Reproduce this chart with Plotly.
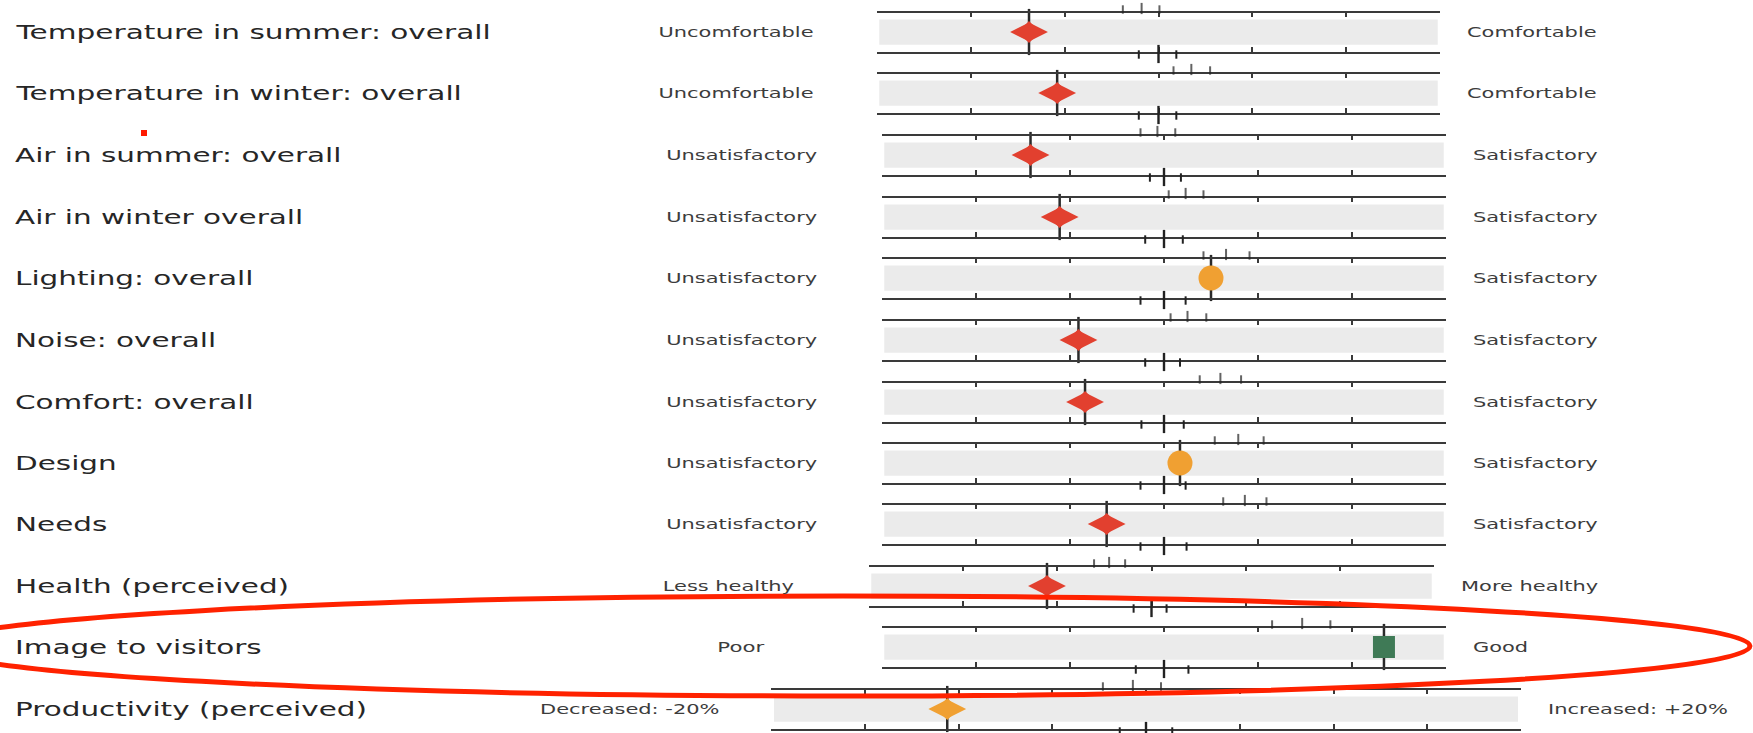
import plotly.graph_objects as go

# ---------------- data ----------------
categories = [
    "Temperature in summer: overall", "Temperature in winter: overall",
    "Air in summer: overall", "Air in winter overall", "Lighting: overall",
    "Noise: overall", "Comfort: overall", "Design", "Needs",
    "Health (perceived)", "Image to visitors", "Productivity (perceived)",
]
low_labels = [
    "Uncomfortable", "Uncomfortable", "Unsatisfactory", "Unsatisfactory",
    "Unsatisfactory", "Unsatisfactory", "Unsatisfactory", "Unsatisfactory",
    "Unsatisfactory", "Less healthy", "Poor", "Decreased: -20%",
]
high_labels = [
    "Comfortable", "Comfortable", "Satisfactory", "Satisfactory",
    "Satisfactory", "Satisfactory", "Satisfactory", "Satisfactory",
    "Satisfactory", "More healthy", "Good", "Increased: +20%",
]
scale_min = [1, 1, 1, 1, 1, 1, 1, 1, 1, 1, 1, -20]
scale_max = [7, 7, 7, 7, 7, 7, 7, 7, 7, 7, 7, 20]
scale_step = [1, 1, 1, 1, 1, 1, 1, 1, 1, 1, 1, 5]

scores = [2.62, 2.92, 2.58, 2.89, 4.50, 3.09, 3.16, 4.17, 3.39, 2.89, 6.34, -10.6]

# benchmark marks (above the band)
bench_low = [3.62, 4.16, 3.75, 4.05, 4.42, 4.07, 4.38, 4.54, 4.63, 3.39, 5.15, -2.3]
bench_mid = [3.82, 4.35, 3.93, 4.23, 4.66, 4.25, 4.60, 4.79, 4.86, 3.55, 5.47, -0.7]
bench_high = [4.01, 4.55, 4.12, 4.42, 4.91, 4.45, 4.82, 5.06, 5.09, 3.72, 5.77, 0.8]

# scale mid-point marks (below the band)
mid_low = [3.79, 3.79, 3.85, 3.80, 3.75, 3.80, 3.76, 3.75, 3.75, 3.81, 3.70, -1.4]
mid_centre = [4.0, 4.0, 4.0, 4.0, 4.0, 4.0, 4.0, 4.0, 4.0, 4.0, 4.0, 0.0]
mid_high = [4.19, 4.19, 4.18, 4.20, 4.23, 4.17, 4.21, 4.23, 4.24, 4.16, 4.26, 1.4]

vs_benchmark = ["worse", "worse", "worse", "worse", "similar", "worse",
                "worse", "similar", "worse", "worse", "better", "similar"]
vs_midpoint = ["below", "below", "below", "below", "near", "below",
               "below", "near", "below", "below", "above", "below"]

# ---------------- styles / layout geometry ----------------
W, H = 1753, 733
colour_map = {"worse": "#e2402f", "similar": "#f0a032", "better": "#3f7a56"}
symbol_map = {"below": "diamond-wide", "near": "circle", "above": "square"}
size_map = {"below": 27, "near": 25, "above": 22}

row_centre_px = [32, 93, 155, 217, 278, 340, 402, 463, 524, 586, 647, 709]
axis_left_px = [877, 877, 882, 882, 882, 882, 882, 882, 882, 869, 882, 771]
axis_right_px = [1440, 1440, 1446, 1446, 1446, 1446, 1446, 1446, 1446, 1434, 1446, 1521]
half_h = 19.5
band_px = 2 * half_h
pad_px = 14
LINE = "#3a3a3a"
MARK = "#222222"


def px(v):
    """pixel offset -> y units of a row axis"""
    return v / band_px


fig = go.Figure()
layout = dict(
    width=W, height=H, margin=dict(l=0, r=0, t=0, b=0),
    paper_bgcolor="white", plot_bgcolor="rgba(0,0,0,0)", showlegend=False,
    font=dict(family="DejaVu Sans", color="#2b2b2b"),
)
shapes = []
annotations = []
N = len(categories)

for i, cat in enumerate(categories):
    n = "" if i == 0 else str(i + 1)
    xa, ya = "x" + n, "y" + n
    nb = str(i + 1 + N)
    yb = "y" + nb
    c = row_centre_px[i]
    top = c - half_h
    bot = c + half_h
    layout["xaxis" + n] = dict(
        domain=[axis_left_px[i] / W, axis_right_px[i] / W],
        range=[scale_min[i], scale_max[i]], tick0=scale_min[i], dtick=scale_step[i],
        showline=True, linecolor=LINE, linewidth=1.5, mirror="ticks",
        ticks="inside", ticklen=5, tickwidth=1.5, tickcolor=LINE,
        showticklabels=False, showgrid=False, zeroline=False, anchor=ya,
        fixedrange=True,
    )
    layout["yaxis" + n] = dict(
        domain=[(H - bot) / H, (H - top) / H], range=[0, 1], visible=False,
        anchor=xa, fixedrange=True,
    )
    # taller companion axis (same scale) so that marks outside the lines are drawn
    top_b = max(0.0, top - pad_px)
    bot_b = min(float(H), bot + pad_px)
    layout["yaxis" + nb] = dict(
        domain=[(H - bot_b) / H, (H - top_b) / H],
        range=[-px(bot_b - bot), 1 + px(top - top_b)], visible=False,
        anchor=xa, fixedrange=True,
    )
    # grey band
    shapes.append(dict(type="rect", xref=xa + " domain", yref=ya,
                       x0=0.004, x1=0.996, y0=0.17, y1=0.82,
                       fillcolor="#ebebeb", line=dict(width=0), layer="below"))
    # benchmark marks above top line
    fig.add_trace(go.Scatter(
        x=[bench_low[i], bench_mid[i], bench_high[i]],
        y=[1 + px(3.0), 1 + px(4.0), 1 + px(3.0)],
        xaxis=xa, yaxis=yb, mode="markers", cliponaxis=False, hoverinfo="skip",
        marker=dict(symbol="line-ns", size=[6, 8, 6],
                    line=dict(color=MARK, width=2)),
    ))
    # scale mid-point marks below bottom line
    fig.add_trace(go.Scatter(
        x=[mid_low[i], mid_high[i]], y=[-px(3.0), -px(3.0)],
        xaxis=xa, yaxis=yb, mode="markers", cliponaxis=False, hoverinfo="skip",
        marker=dict(symbol="line-ns", size=6, line=dict(color=MARK, width=2)),
    ))
    fig.add_trace(go.Scatter(
        x=[mid_centre[i]], y=[-px(2.5)],
        xaxis=xa, yaxis=yb, mode="markers", cliponaxis=False, hoverinfo="skip",
        marker=dict(symbol="line-ns", size=13, line=dict(color=MARK, width=2.4)),
    ))
    # stem through the score
    fig.add_trace(go.Scatter(
        x=[scores[i]], y=[0.5], xaxis=xa, yaxis=ya, mode="markers",
        cliponaxis=False, hoverinfo="skip",
        marker=dict(symbol="line-ns", size=33, line=dict(color="#2a2a2a", width=2.5)),
    ))
    # score marker (diamonds get a taller core to give the 4-point star look)
    if vs_midpoint[i] == "below":
        fig.add_trace(go.Scatter(
            x=[scores[i]], y=[0.5], xaxis=xa, yaxis=ya, mode="markers",
            cliponaxis=False, hoverinfo="skip",
            marker=dict(symbol="diamond", size=17,
                        color=colour_map[vs_benchmark[i]], line=dict(width=0)),
        ))
    fig.add_trace(go.Scatter(
        x=[scores[i]], y=[0.5], xaxis=xa, yaxis=ya, mode="markers",
        cliponaxis=False, name=cat,
        marker=dict(symbol=symbol_map[vs_midpoint[i]], size=size_map[vs_midpoint[i]],
                    color=colour_map[vs_benchmark[i]], line=dict(width=0)),
    ))
    yc = (H - c) / H
    annotations.append(dict(text=cat, xref="paper", yref="paper", x=13 / W, y=yc,
                            xanchor="left", yanchor="middle", showarrow=False,
                            name="stretch",
                            font=dict(size=19, color="#262626", family="DejaVu Sans")))
    annotations.append(dict(text=low_labels[i], xref="paper", yref="paper",
                            x=(axis_left_px[i] - 141) / W, y=yc,
                            xanchor="center", yanchor="middle", showarrow=False,
                            name="stretch",
                            font=dict(size=13.5, color="#3c3c3c", family="DejaVu Sans")))
    annotations.append(dict(text=high_labels[i], xref="paper", yref="paper",
                            x=(axis_right_px[i] + 25) / W, y=yc,
                            xanchor="left", yanchor="middle", showarrow=False,
                            name="stretch",
                            font=dict(size=13.5, color="#3c3c3c", family="DejaVu Sans")))

# hand-drawn red highlight around "Image to visitors" and a stray red dot
shapes.append(dict(type="circle", xref="paper", yref="paper",
                   x0=-64 / W, x1=1750 / W, y0=(H - 696) / H, y1=(H - 596) / H,
                   line=dict(color="#ff2200", width=5), fillcolor="rgba(0,0,0,0)",
                   layer="above"))
shapes.append(dict(type="rect", xref="paper", yref="paper",
                   x0=141 / W, x1=147 / W, y0=(H - 136) / H, y1=(H - 130) / H,
                   fillcolor="#ff1a00", line=dict(width=0), layer="above"))

layout["shapes"] = shapes
layout["annotations"] = annotations
fig.update_layout(**layout)

post_js = """
var gd = document.getElementById('{plot_id}');
document.body.style.margin = '0';
document.body.style.overflow = 'hidden';
function stretchText(){
  var anns = (gd.layout && gd.layout.annotations) || [];
  gd.querySelectorAll('g.annotation').forEach(function(g){
    var idx = parseInt(g.getAttribute('data-index'));
    var a = anns[idx];
    if(!a || a.name !== 'stretch') return;
    var t = g.querySelector('text.annotation-text');
    if(!t || t.getAttribute('data-stretched')) return;
    var b0 = t.getBBox();
    t.setAttribute('textLength', (b0.width*1.55).toFixed(2));
    t.setAttribute('lengthAdjust', 'spacingAndGlyphs');
    var b1 = t.getBBox();
    var dx;
    if(a.xanchor === 'left') dx = b0.x - b1.x;
    else if(a.xanchor === 'right') dx = (b0.x + b0.width) - (b1.x + b1.width);
    else dx = (b0.x + b0.width/2) - (b1.x + b1.width/2);
    t.setAttribute('transform', 'translate(' + dx.toFixed(2) + ',0)');
    t.setAttribute('data-stretched', '1');
  });
}
stretchText();
"""

fig.write_html("out.html", post_script=post_js, config={"displayModeBar": False})
